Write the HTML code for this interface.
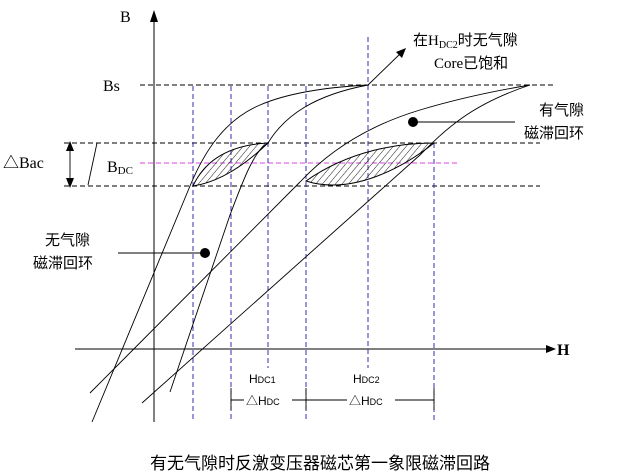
<!DOCTYPE html>
<html><head><meta charset="utf-8"><style>
html,body{margin:0;padding:0;background:#fff;width:623px;height:473px;overflow:hidden}
svg{display:block}
text{font-family:"Liberation Serif","Noto Serif CJK SC",serif;fill:#000}
.cj{font-family:"Liberation Sans","Noto Sans CJK SC",sans-serif}
</style></head><body>
<svg width="623" height="473" viewBox="0 0 623 473" xmlns="http://www.w3.org/2000/svg">
<defs>
<pattern id="h" width="5" height="5" patternUnits="userSpaceOnUse" patternTransform="rotate(40)">
<line x1="0" y1="0" x2="0" y2="5" stroke="#000" stroke-width="0.9"/>
</pattern>
</defs>
<g stroke="#000" stroke-width="1" fill="none">
<line x1="154" y1="20" x2="154" y2="422"/>
<line x1="75" y1="349" x2="548" y2="349"/>
</g>
<polygon points="154,10 150,22 158,22" fill="#000"/>
<polygon points="556,349 546,345 546,353" fill="#000"/>
<g stroke="#000" stroke-width="1" stroke-dasharray="5,3">
<line x1="140" y1="85" x2="556" y2="85"/>
<line x1="64" y1="143" x2="540" y2="143"/>
<line x1="64" y1="186" x2="540" y2="186"/>
</g>
<line x1="140" y1="163" x2="460" y2="163" stroke="#e040e0" stroke-width="1" stroke-dasharray="5,3"/>
<g stroke="#3030b0" stroke-width="1" stroke-dasharray="5,3">
<line x1="193" y1="86" x2="193" y2="422"/>
<line x1="231" y1="86" x2="231" y2="422"/>
<line x1="268" y1="86" x2="268" y2="368"/>
<line x1="306" y1="86" x2="306" y2="422"/>
<line x1="368" y1="37" x2="368" y2="368"/>
<line x1="434" y1="143" x2="434" y2="422"/>
</g>
<path d="M193,186 C205,160 230,145 268,143 C245,165 220,182 193,186 Z" fill="url(#h)" stroke="#000" stroke-width="1"/>
<path d="M306,181 C350,150 400,143 434,143 C400,170 350,195 306,181 Z" fill="url(#h)" stroke="#000" stroke-width="1"/>
<g stroke="#000" stroke-width="0.9" fill="none">
<path d="M92,422 L190,186 C205,150 225,120 260,105 C290,92 330,87 368,85"/>
<path d="M170,392 L230,215 C245,175 255,150 268,143 C285,115 315,95 368,85"/>
<path d="M90,393 L300,182 C330,150 370,125 420,110 C460,98 500,90 530,85"/>
<path d="M142,403 L420,155 C445,130 470,105 530,85"/>
<line x1="368" y1="85" x2="402" y2="52"/>
<line x1="413" y1="122" x2="515" y2="122"/>
<line x1="118" y1="253" x2="205" y2="253"/>
<line x1="70" y1="146" x2="70" y2="183"/>
<line x1="88" y1="185" x2="97" y2="143"/>
<line x1="231" y1="400" x2="434" y2="400"/>
<line x1="231" y1="388" x2="231" y2="410"/>
<line x1="306" y1="388" x2="306" y2="410"/>
<line x1="434" y1="388" x2="434" y2="410"/>
</g>
<polygon points="406,48 396,52 402,58" fill="#000"/>
<polygon points="70,141 66,151 74,151" fill="#000"/>
<polygon points="70,188 66,178 74,178" fill="#000"/>
<circle cx="413" cy="122" r="5" fill="#000"/>
<circle cx="205" cy="253" r="5" fill="#000"/>
<text x="120" y="22" font-size="16">B</text>
<text x="557" y="355" font-size="16" font-weight="bold">H</text>
<text x="103" y="91" font-size="16">Bs</text>
<text x="3" y="168" font-size="16">△Bac</text>
<text x="107" y="172" font-size="16">B<tspan font-size="11" dy="2">DC</tspan></text>
<text x="413" y="45" font-size="15" class="cj">在<tspan font-family="Liberation Serif">H</tspan><tspan font-size="10" dy="3" font-family="Liberation Serif">DC2</tspan><tspan dy="-3">时无气隙</tspan></text>
<text x="434" y="68" font-size="15" class="cj"><tspan font-family="Liberation Serif">Core</tspan>已饱和</text>
<text x="539" y="115" font-size="15" class="cj">有气隙</text>
<text x="524" y="138" font-size="15" class="cj">磁滞回环</text>
<text x="45" y="245" font-size="15" class="cj">无气隙</text>
<text x="33" y="268" font-size="15" class="cj">磁滞回环</text>
<text x="249" y="383" font-size="12" class="cj">H<tspan font-size="9">DC1</tspan></text>
<text x="353" y="383" font-size="12" class="cj">H<tspan font-size="9">DC2</tspan></text>
<rect x="244" y="392" width="48" height="14" fill="#fff"/>
<text x="246" y="405" font-size="12" class="cj">△H<tspan font-size="9">DC</tspan></text>
<rect x="347" y="392" width="48" height="14" fill="#fff"/>
<text x="349" y="405" font-size="12" class="cj">△H<tspan font-size="9">DC</tspan></text>
<text x="320" y="469" font-size="17" text-anchor="middle" class="cj">有无气隙时反激变压器磁芯第一象限磁滞回路</text>
</svg>
</body></html>
